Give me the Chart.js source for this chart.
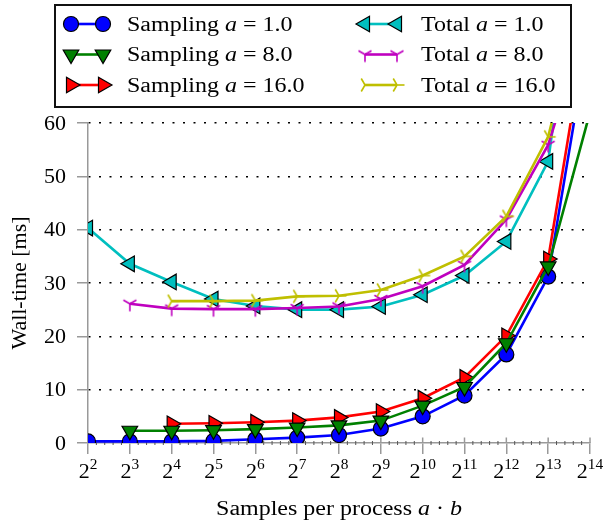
<!DOCTYPE html>
<html>
<head>
<meta charset="utf-8">
<script src="https://cdn.jsdelivr.net/npm/chart.js@4.4.1/dist/chart.umd.min.js"></script>
<style>
  html, body { margin: 0; padding: 0; background: #fff; }
  #chart { display: block; }
</style>
</head>
<body>
<canvas id="chart" width="608" height="528"></canvas>
<script>
// -------------------------
// Data (x = log2 of samples per process)
// -------------------------
const sampleExps = [2, 3, 4, 5, 6, 7, 8, 9, 10, 11, 12, 13, 14];
const yTicks = [0, 10, 20, 30, 40, 50, 60];

const sampling1 = [0.3, 0.3, 0.3, 0.4, 0.7, 1.0, 1.5, 2.7, 5.0, 8.9, 16.6, 31.2, 78];
const sampling8 = [null, 2.3, 2.3, 2.4, 2.6, 2.9, 3.3, 4.2, 7.0, 10.5, 18.7, 33.1, 62];
const sampling16 = [null, null, 3.6, 3.7, 3.9, 4.2, 4.8, 5.9, 8.4, 12.3, 20.1, 34.5, 82];
const total1 = [40.3, 33.6, 30.2, 27.0, 25.7, 25.0, 25.0, 25.6, 27.8, 31.4, 37.8, 52.8, 110];
const total8 = [null, 26.1, 25.2, 25.1, 25.1, 25.3, 25.6, 27.0, 29.4, 33.4, 41.9, 55.9, 81];
const total16 = [null, null, 26.6, 26.6, 26.7, 27.5, 27.6, 28.7, 31.4, 35.0, 42.5, 57.4, 89];

const seriesNames = ["Sampling", "Sampling", "Sampling", "Total", "Total", "Total"];
const seriesA = ["1.0", "8.0", "16.0", "1.0", "8.0", "16.0"];

(() => {
  const FONT = "'Liberation Serif', serif";

  // -------------------------
  // Marker helpers
  // -------------------------
  function makeTriMarker(color, rotDeg) {
    const c = document.createElement("canvas");
    c.width = 20;
    c.height = 20;
    const g = c.getContext("2d");
    g.translate(10, 10);
    g.rotate(rotDeg * Math.PI / 180);
    g.strokeStyle = color;
    g.lineWidth = 1.6;
    [90, 210, 330].forEach(a => {
      const r = a * Math.PI / 180;
      g.beginPath();
      g.moveTo(0, 0);
      g.lineTo(Math.cos(r) * 7.5, Math.sin(r) * 7.5);
      g.stroke();
    });
    return c;
  }

  const toPoints = arr => arr.map((v, i) => ({ x: sampleExps[i], y: v }));

  function series(data, color, style, rot, radius, order) {
    const filled = typeof style === "string";
    return {
      data: toPoints(data),
      borderColor: color,
      backgroundColor: color,
      borderWidth: 2.6,
      pointStyle: style,
      pointRotation: rot,
      pointRadius: radius,
      pointBackgroundColor: color,
      pointBorderColor: filled ? "#000" : color,
      pointBorderWidth: filled ? 1.2 : 0,
      tension: 0,
      clip: 0,
      order
    };
  }

  const datasets = [
    series(sampling1, "#0000ff", "circle", 0, 7.5, 3),
    series(sampling8, "#008000", "triangle", 180, 9, 1),
    series(sampling16, "#ff0000", "triangle", 90, 9, 2),
    series(total1, "#00bfbf", "triangle", -90, 9, 6),
    series(total8, "#bf00bf", makeTriMarker("#bf00bf", 0), 0, 8, 5),
    series(total16, "#bfbf00", makeTriMarker("#bfbf00", -90), 0, 8, 4)
  ];

  // -------------------------
  // Text helpers
  // -------------------------
  // parts: [[text, italic], ...]; drawn with a horizontal stretch sx
  function partsWidth(ctx, parts, size) {
    let w = 0;
    parts.forEach(([t, it]) => {
      ctx.font = `${it ? "italic " : ""}${size}px ${FONT}`;
      w += ctx.measureText(t).width;
    });
    return w;
  }

  function drawParts(ctx, parts, x, y, size, sx, align) {
    ctx.save();
    ctx.textBaseline = "alphabetic";
    ctx.textAlign = "left";
    ctx.fillStyle = "#000";
    const w = partsWidth(ctx, parts, size) * sx;
    let start = x;
    if (align === "center") start = x - w / 2;
    if (align === "right") start = x - w;
    ctx.translate(start, y);
    ctx.scale(sx, 1);
    let cx = 0;
    parts.forEach(([t, it]) => {
      ctx.font = `${it ? "italic " : ""}${size}px ${FONT}`;
      ctx.fillText(t, cx, 0);
      cx += ctx.measureText(t).width;
    });
    ctx.restore();
  }

  function drawMarker(ctx, ds, x, y) {
    const style = ds.pointStyle;
    ctx.save();
    ctx.translate(x, y);
    ctx.rotate(ds.pointRotation * Math.PI / 180);
    if (typeof style !== "string") {
      ctx.drawImage(style, -style.width / 2, -style.height / 2);
    } else {
      const r = ds.pointRadius;
      ctx.beginPath();
      if (style === "circle") {
        ctx.arc(0, 0, r, 0, Math.PI * 2);
      } else {
        for (let i = 0; i < 3; i++) {
          const a = i * Math.PI * 2 / 3;
          ctx.lineTo(Math.sin(a) * r, -Math.cos(a) * r);
        }
        ctx.closePath();
      }
      ctx.fillStyle = ds.pointBackgroundColor;
      ctx.strokeStyle = ds.pointBorderColor;
      ctx.lineWidth = ds.pointBorderWidth;
      ctx.fill();
      ctx.stroke();
    }
    ctx.restore();
  }

  // -------------------------
  // Plugin: ticks, labels, titles, legend
  // -------------------------
  const decorPlugin = {
    id: "decor",
    beforeDatasetsDraw(chart) {
      const ctx = chart.ctx;
      const xs = chart.scales.x;
      const yb = chart.chartArea.bottom;
      ctx.save();
      // inner part of major x ticks
      ctx.strokeStyle = "#999";
      ctx.lineWidth = 1.5;
      sampleExps.forEach(e => {
        const px = xs.getPixelForValue(e);
        ctx.beginPath();
        ctx.moveTo(px, yb);
        ctx.lineTo(px, yb - 5.5);
        ctx.stroke();
      });
      // minor x ticks
      ctx.strokeStyle = "#555";
      ctx.lineWidth = 1;
      for (let i = 0; i < sampleExps.length - 1; i++) {
        for (let k = 1; k < 5; k++) {
          const px = xs.getPixelForValue(sampleExps[i] + k / 5);
          ctx.beginPath();
          ctx.moveTo(px, yb - 2);
          ctx.lineTo(px, yb + 2);
          ctx.stroke();
        }
      }
      ctx.restore();
    },
    afterDraw(chart) {
      const ctx = chart.ctx;
      const xs = chart.scales.x;
      const ys = chart.scales.y;

      // x tick labels 2^k
      sampleExps.forEach(e => {
        const px = xs.getPixelForValue(e);
        const exp = String(e);
        ctx.font = `20px ${FONT}`;
        const wb = ctx.measureText("2").width * 1.1;
        ctx.font = `14px ${FONT}`;
        const we = ctx.measureText(exp).width * 1.1;
        const start = px - (wb + we) / 2;
        drawParts(ctx, [["2", false]], start, 478, 20, 1.1, "left");
        drawParts(ctx, [[exp, false]], start + wb, 469, 14, 1.1, "left");
      });

      // y tick labels
      yTicks.forEach(v => {
        drawParts(ctx, [[String(v), false]], 66, ys.getPixelForValue(v) + 6.7, 20, 1.1, "right");
      });

      // axis titles
      drawParts(ctx, [["Samples per process ", false], ["a", true], [" \u00b7 ", false], ["b", true]],
        (chart.chartArea.left + chart.chartArea.right) / 2, 515, 20, 1.2, "center");
      ctx.save();
      ctx.translate(26, (chart.chartArea.top + chart.chartArea.bottom) / 2);
      ctx.rotate(-Math.PI / 2);
      drawParts(ctx, [["Wall-time [ms]", false]], 0, 0, 20, 1.1, "center");
      ctx.restore();

      // legend box
      ctx.save();
      ctx.fillStyle = "#fff";
      ctx.fillRect(55, 5, 516, 102);
      ctx.strokeStyle = "#111";
      ctx.lineWidth = 2;
      ctx.strokeRect(55, 5, 516, 102);
      ctx.restore();

      const rowsY = [24, 54.5, 85];
      const cols = [{ m1: 71, m2: 103, tx: 127 }, { m1: 365, m2: 397, tx: 421 }];
      datasets.forEach((ds, i) => {
        const col = cols[Math.floor(i / 3)];
        const ry = rowsY[i % 3];
        ctx.save();
        ctx.strokeStyle = ds.borderColor;
        ctx.lineWidth = 2.6;
        ctx.beginPath();
        ctx.moveTo(col.m1, ry);
        ctx.lineTo(col.m2, ry);
        ctx.stroke();
        ctx.restore();
        drawMarker(ctx, ds, col.m1, ry);
        drawMarker(ctx, ds, col.m2, ry);
        drawParts(ctx, [[seriesNames[i] + " ", false], ["a", true], [" = " + seriesA[i], false]],
          col.tx, ry + 6.7, 20, 1.2, "left");
      });
    }
  };

  // -------------------------
  // Chart
  // -------------------------
  new Chart(document.getElementById("chart").getContext("2d"), {
    type: "line",
    data: { datasets },
    options: {
      responsive: false,
      animation: false,
      devicePixelRatio: 1,
      layout: { padding: { top: 123, right: 18, left: 0, bottom: 0 } },
      plugins: { legend: { display: false }, tooltip: { enabled: false } },
      scales: {
        x: {
          type: "linear",
          min: 2,
          max: 14,
          ticks: { stepSize: 1, display: false },
          afterFit: s => { s.height = 85; },
          grid: { drawOnChartArea: false, color: "#999", tickColor: "#999", lineWidth: 1.5, tickWidth: 1.5, tickLength: 11 },
          border: { color: "#999", width: 1.5 }
        },
        y: {
          min: 0,
          max: 60,
          ticks: { stepSize: 10, display: false },
          afterFit: s => { s.width = 88; },
          grid: {
            color: c => (c.tick && c.tick.value === 0 ? "rgba(0,0,0,0)" : "#000"),
            tickColor: "#999",
            lineWidth: 1.5,
            tickWidth: 1.5,
            tickLength: 11
          },
          border: { color: "#999", width: 1.5, dash: [2, 8.5] }
        }
      }
    },
    plugins: [decorPlugin]
  });
})();
</script>
</body>
</html>
